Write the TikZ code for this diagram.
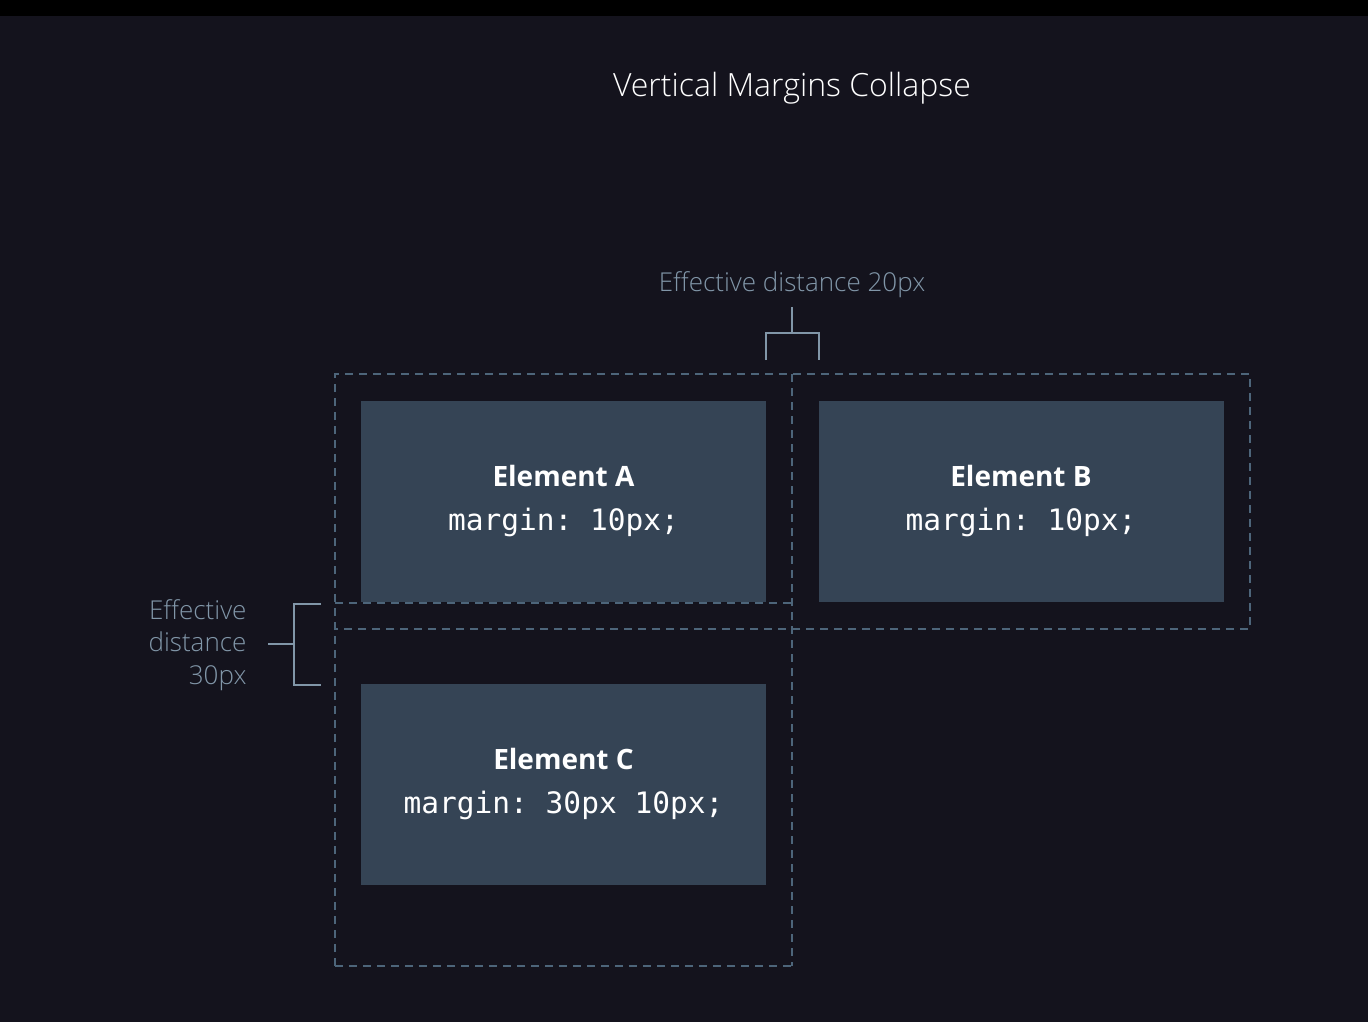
\documentclass[tikz,border=0pt]{standalone}
\usepackage{fontspec}
\setmainfont{Open Sans}
\setmonofont{DejaVu Sans Mono}
\newfontfamily\lightfont{Open Sans Light}
\definecolor{bg}{HTML}{14131D}
\definecolor{elemfill}{HTML}{354455}
\definecolor{dashcol}{HTML}{4D657A}
\definecolor{labcol}{HTML}{8196A8}
\tikzset{
  elem/.style={fill=elemfill, draw=none, minimum width=405pt, minimum height=201pt, inner sep=0pt},
  elname/.style={text=white, font=\fontsize{28}{32}\selectfont\bfseries},
  elcode/.style={text=white, font=\fontsize{29.5}{34}\ttfamily},
  margline/.style={draw=dashcol, line width=1.3pt, dash pattern=on 8pt off 6pt},
  brk/.style={draw=labcol, line width=1.2pt},
  lab/.style={text=labcol, font=\lightfont\fontsize{26}{32.5}\selectfont},
}
\begin{document}
\begin{tikzpicture}[x=1pt,y=-1pt]
\fill[black] (0,0) rectangle (1368,16);
\fill[bg] (0,16) rectangle (1368,1022);
\useasboundingbox (0,0) rectangle (1368,1022);
\node[text=white, font=\lightfont\fontsize{32}{38}\selectfont] (title) at (792,88.5) {Vertical Margins Collapse};
% elements
\node[elem] (A) at (563.5,501.5) {};
\node[elem] (B) at (1021,501.5) {};
\node[elem] (C) at (563.5,784.5) {};
\node[elname] (An) at (563.5,476) {Element A};
\node[elcode] (Ac) at (563.5,522) {margin: 10px;};
\node[elname] (Bn) at (1021,476) {Element B};
\node[elcode] (Bc) at (1021,522) {margin: 10px;};
\node[elname] (Cn) at (563.5,759) {Element C};
\node[elcode] (Cc) at (563.5,805) {margin: 30px 10px;};
% margins
\draw[margline] (335,966) -- (335,374) -- (1250,374) -- (1250,629) -- (335,629);
\draw[margline] (335,603) -- (792,603);
\draw[margline] (335,966) -- (792,966);
\draw[margline] (792,374) -- (792,966);
% top bracket
\node[lab] (l20) at (792,284.5) {Effective distance 20px};
\coordinate (t1) at (766,360);
\coordinate (t2) at (819,360);
\coordinate (tm) at (792,333);
\coordinate (ts) at (792,307);
\draw[brk] (t1) |- (tm) -| (t2);
\draw[brk] (tm) -- (ts);
% left bracket
\node[lab, anchor=east, align=right] (l30) at (250,645) {Effective\\distance\\30px};
\coordinate (s1) at (321,604);
\coordinate (s2) at (321,685);
\coordinate (sm) at (294,644);
\coordinate (ss) at (268,644);
\draw[brk] (s1) -| (294,685) -- (s2);
\draw[brk] (sm) -- (ss);
\end{tikzpicture}
\end{document}
